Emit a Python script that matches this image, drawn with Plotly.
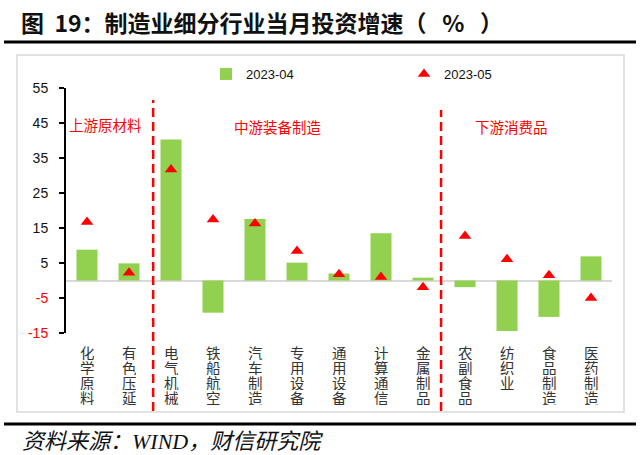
import plotly.graph_objects as go

# 制造业细分行业当月投资增速（%）
categories = ["化学原料", "有色压延", "电气机械", "铁船航空", "汽车制造", "专用设备",
              "通用设备", "计算通信", "金属制品", "农副食品", "纺织业", "食品制造", "医药制造"]
apr_2023 = [8.8, 4.9, 40.3, -9.2, 17.6, 5.1, 2.0, 13.5, 0.8, -1.9, -14.4, -10.4, 6.9]
may_2023 = [16.7, 2.2, 31.7, 17.4, 16.3, 8.4, 1.8, 1.0, -1.9, 12.7, 6.1, 1.5, -5.0]
series_names = ["2023-04", "2023-05"]
y_ticks = [55, 45, 35, 25, 15, 5, -5, -15]
groups = ["上游原材料", "中游装备制造", "下游消费品"]

W, H = 640, 455
L, R, T, B = 66, 28, 88, 122
PW, PH = W - L - R, H - T - B


def px(p):  # pixel x -> paper
    return (p - L) / PW


def py(p):  # pixel y -> paper
    return (H - B - p) / PH


GREEN = "#92D050"
RED = "#FF0000"
CJK = "Noto Sans CJK SC"
NUM = "Liberation Sans, Noto Sans CJK SC"
SP = "\u00a0"

fig = go.Figure()
fig.add_trace(go.Bar(x=categories, y=apr_2023, name=series_names[0],
                     marker=dict(color=GREEN, line=dict(width=0)), width=0.5))
fig.add_trace(go.Scatter(x=categories, y=may_2023, name=series_names[1], mode="markers",
                         marker=dict(symbol="triangle-up", size=11, color=RED)))

ticktext = [str(v) if v >= 0 else "<span style='color:#FF0000'>%d</span>" % v for v in y_ticks]

shapes = [
    # outer chart box
    dict(type="rect", xref="paper", yref="paper", x0=px(17), x1=px(624), y0=py(412), y1=py(55),
         line=dict(color="#D9D9D9", width=1.5), layer="below"),
    # title and source rules
    dict(type="line", xref="paper", yref="paper", x0=px(4), x1=px(636), y0=py(42), y1=py(42),
         line=dict(color="black", width=3)),
    dict(type="line", xref="paper", yref="paper", x0=px(4), x1=px(636), y0=py(424), y1=py(424),
         line=dict(color="black", width=3)),
    # group dividers
    dict(type="line", xref="x", yref="paper", x0=1.575, x1=1.575, y0=py(411), y1=py(100),
         line=dict(color=RED, width=2.5, dash="9px,5px")),
    dict(type="line", xref="x", yref="paper", x0=8.43, x1=8.43, y0=py(411), y1=py(110),
         line=dict(color=RED, width=2.5, dash="9px,5px")),
]

title = "图" + SP * 2 + "19：制造业细分行业当月投资增速（" + SP * 3 + "%" + SP * 3 + "）"
annotations = [
    dict(text="<b>" + title + "</b>", xref="paper", yref="paper",
         x=px(19), y=py(22), xanchor="left", yanchor="middle", showarrow=False,
         font=dict(family=CJK, size=23, color="#111111")),
    dict(text="<i>资料来源：WIND，财信研究院</i>", xref="paper", yref="paper",
         x=px(20), y=py(441), xanchor="left", yanchor="middle", showarrow=False,
         font=dict(family="Liberation Serif, Noto Sans CJK SC", size=22, color="#111111",
                   style="italic")),
]

group_pos = [(105, 124), (278, 126), (511, 126)]
for g, (gx, gy) in zip(groups, group_pos):
    annotations.append(dict(text=g, xref="paper", yref="paper", x=px(gx), y=py(gy),
                            xanchor="center", yanchor="middle", showarrow=False,
                            font=dict(family=CJK, size=14.5, color=RED)))

# vertical category labels, one character per row, stacked tightly like the original
for c in categories:
    for k, ch in enumerate(c):
        annotations.append(dict(text=ch, xref="x", yref="paper", x=c, y=py(352 + 15 * k),
                                xanchor="center", yanchor="middle", showarrow=False,
                                height=15, valign="middle",
                                font=dict(family=CJK, size=14.5, color="#333333")))

fig.update_layout(
    width=W, height=H,
    margin=dict(l=L, r=R, t=T, b=B),
    plot_bgcolor="white", paper_bgcolor="white",
    showlegend=True,
    legend=dict(orientation="h", x=px(206), y=py(74), xanchor="left", yanchor="middle",
                entrywidth=153, entrywidthmode="pixels", bgcolor="rgba(0,0,0,0)",
                font=dict(family=NUM, size=13, color="#111111"), itemclick=False),
    xaxis=dict(type="category", categoryorder="array", categoryarray=categories,
               range=[-0.5, 12.5], showticklabels=False, showline=False, ticks="",
               showgrid=False, zeroline=False),
    yaxis=dict(range=[-15, 55], tickvals=y_ticks, ticktext=ticktext, showgrid=False,
               showline=True, linecolor="black", linewidth=2, ticks="outside", ticklen=5,
               tickwidth=2, tickcolor="black", ticklabelstandoff=8,
               zeroline=True, zerolinecolor="#D9D9D9", zerolinewidth=2,
               tickfont=dict(family=NUM, size=14, color="#111111")),
    shapes=shapes,
    annotations=annotations,
)

# the page body has a default 8px margin; drop it so the figure fills the window
fig.write_html("out.html", config={"displayModeBar": False},
               post_script="document.body.style.margin='0';")
